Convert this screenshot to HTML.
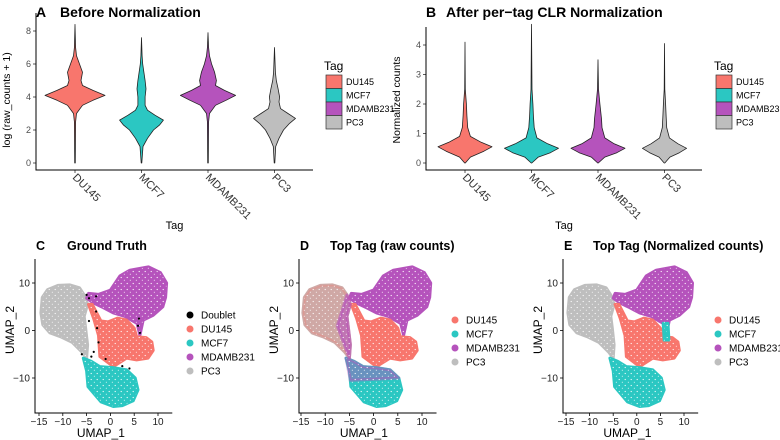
<!DOCTYPE html>
<html><head><meta charset="utf-8">
<style>
html,body{margin:0;padding:0;background:#fff;}
svg{display:block;font-family:"Liberation Sans",Arial,sans-serif;}
.tick{fill:#4d4d4d;}
.ttl{font-weight:bold;fill:#000;}
.ax{fill:#000;}
.lg{fill:#000;}
</style></head><body>
<svg id="fig" width="780" height="440" viewBox="0 0 780 440" xmlns="http://www.w3.org/2000/svg">
<defs>
<pattern id="speck" width="6" height="6" patternUnits="userSpaceOnUse">
<circle cx="1.2" cy="1.5" r="0.6" fill="#fff"/>
<circle cx="4.3" cy="4.2" r="0.5" fill="#fff"/>
</pattern>
</defs>
</svg>
<script>
const NS="http://www.w3.org/2000/svg";
const svg=document.getElementById('fig');
function mk(tag,attrs,parent,text){const e=document.createElementNS(NS,tag);for(const k in attrs)e.setAttribute(k,attrs[k]);if(text!==undefined)e.textContent=text;(parent||svg).appendChild(e);return e;}

/* ---------- data ---------- */
const tags=["DU145","MCF7","MDAMB231","PC3"];
const colors=["#F8766D","#2BC7C2","#B553BC","#BEBEBE"];
const vaY=[
 [0,2.5,3.0,3.5,3.8,4.1,4.4,4.7,5.0,5.5,6.0,6.5,7.0,8.4],
 [0,1.0,1.5,2.0,2.3,2.6,2.9,3.2,3.5,4.0,4.5,5.0,5.5,6.0,6.5,7.6],
 [0,2.5,3.0,3.5,3.8,4.1,4.4,4.7,5.0,5.5,6.0,6.5,7.0,7.9],
 [0,1.0,1.5,2.0,2.4,2.7,3.0,3.3,3.7,4.0,4.5,5.0,5.5,7.0]];
const vaW=[
 [0.01,0.02,0.05,0.25,0.6,1.0,0.6,0.25,0.2,0.25,0.15,0.05,0.02,0],
 [0.01,0.05,0.2,0.4,0.6,0.73,0.45,0.2,0.12,0.12,0.15,0.12,0.08,0.04,0.02,0],
 [0.01,0.02,0.05,0.25,0.6,0.92,0.55,0.25,0.28,0.22,0.12,0.05,0.02,0],
 [0.01,0.04,0.15,0.3,0.5,0.7,0.45,0.2,0.15,0.17,0.12,0.06,0.03,0]];
const vbY=[
 [0,0.2,0.4,0.55,0.7,0.9,1.2,1.6,2.0,2.5,4.1],
 [0,0.2,0.35,0.5,0.65,0.85,1.2,1.6,2.0,2.5,4.7],
 [0,0.2,0.35,0.5,0.65,0.85,1.2,1.5,2.0,2.5,3.5],
 [0,0.2,0.35,0.5,0.65,0.85,1.2,1.6,2.0,2.5,4.05]];
const vbW=[
 [0.01,0.2,0.7,1.0,0.6,0.2,0.1,0.07,0.05,0.01,0],
 [0.01,0.25,0.7,1.0,0.6,0.2,0.1,0.07,0.05,0.02,0],
 [0.01,0.25,0.7,1.0,0.6,0.25,0.15,0.13,0.07,0.02,0],
 [0.01,0.2,0.55,0.82,0.5,0.18,0.08,0.06,0.04,0.01,0]];
const aTicks=[0,2,4,6,8];
const bTicks=[0,1,2,3,4];
const umapXTicks=[-15,-10,-5,0,5,10];
const umapYTicks=[-10,0,10];
const pc3X=[-14.6,-14.3,-13.2,-11,-8.5,-6.5,-5.5,-4.8,-5.5,-5.2,-4.8,-5,-6,-8,-10.5,-12.7,-14.2];
const pc3Y=[3.7,7,8.6,9.5,9.6,9,7.5,5.5,3,0.5,-3,-5.8,-4.5,-2.5,-1.3,-0.5,1.2];
const mdX=[0,2,4.1,8,10.5,11.8,11.6,11,9,6.9,6.2,5.6,3,0.6,-1.5,-3.6,-5,-4.6,-2.5];
const mdY=[8.5,11.5,12.7,13.4,12.2,10,7,5,3.2,2.2,-1,1.5,3,3.7,4.8,5.8,6.8,7.8,7.6];
const duX=[-0.5,1.5,3.4,5,5.5,7.5,8.7,9,7.9,5.5,3.4,0.6,-2.2,-2.5,-3.5,-4.6,-3.8,-2];
const duY=[1.8,2.6,2.2,0.5,-1.3,-1.5,-2.4,-4.2,-5.8,-6.2,-5.8,-7.6,-5.5,-1,2.5,5.5,5.5,2];
const mcX=[-5.7,-4,-2.2,0.5,3.4,5.2,5.8,4.8,2.5,0.6,-2,-4.7,-5];
const mcY=[-5.8,-6.5,-7.6,-7.8,-8.3,-10,-12.5,-14.8,-15.8,-16,-15,-11.8,-8.5];
const doubX=[-5,-4.5,-3,-2.8,-2.5,-3.5,-4,5.8,6,6.2,-4.5,-3,2.5,4,-6,-1];
const doubY=[7.5,6.8,7.2,0.5,-2.5,-4.5,-5.5,1,2.5,-0.5,2,4,-7.5,-8,-5,-6];

function titleText(g,letter,name,lx,nx,y,size){
  const a=mk('text',{class:'ttl',x:lx,y:y,style:'font-size:'+size},g,letter);
  
  
  const b=mk('text',{class:'ttl',x:nx,y:y,style:'font-size:'+size},g,name);
  
  
}

function violinPanel(id,left,right,bottom,y0px,ppu,ticks,ys,ws,maxHW,letter,title,titleX,ytitle,ylabelX,legX,legTxtX){
  const g=mk('g',{},svg);
  
  
  const yS=v=>y0px-v*ppu;
  const xS=i=>left+39+i*66.5;
  for(let i=0;i<tags.length;i++){
    let d='';const yv=ys[i],wv=ws[i];
    for(let k=0;k<yv.length;k++){d+=(k?'L':'M')+(xS(i)+wv[k]*maxHW).toFixed(1)+','+yS(yv[k]).toFixed(1);}
    for(let k=yv.length-1;k>=0;k--){d+='L'+(xS(i)-wv[k]*maxHW).toFixed(1)+','+yS(yv[k]).toFixed(1);}
    const p=mk('path',{d:d+'Z',fill:colors[i],stroke:'#222','stroke-width':0.8,'stroke-linejoin':'round'},g);
    
    
    mk('line',{x1:xS(i),x2:xS(i),y1:bottom,y2:bottom+3,stroke:'#333','stroke-width':0.8},g);
    const t=mk('text',{class:'tick',x:0,y:0,transform:`translate(${xS(i)-3},${bottom+8}) rotate(45)`,style:'font-size:11px;fill:#333'},g,tags[i]);
    
    
  }
  ticks.forEach(v=>{
    mk('line',{x1:left-3,x2:left,y1:yS(v),y2:yS(v),stroke:'#333','stroke-width':0.8},g);
    const t=mk('text',{class:'tick',x:left-5,y:yS(v)+3,'text-anchor':'end',style:'font-size:9px'},g,v);
    
    
  });
  mk('path',{d:`M${left},${yS(ticks[ticks.length-1])-18}V${bottom}H${right}`,fill:'none',stroke:'#000','stroke-width':1},g);
  titleText(g,letter,title,left,titleX,17,'14px');
  const yt=mk('text',{class:'ax',transform:`translate(${ylabelX},${(bottom+30)/2}) rotate(-90)`,'text-anchor':'middle',style:'font-size:10.5px'},g,ytitle);
  
  
  const xt=mk('text',{class:'ax',x:(left+right)/2,y:229,'text-anchor':'middle',style:'font-size:11px'},g,'Tag');
  
  
  const lt=mk('text',{class:'ax',x:legX-2,y:70,style:'font-size:12px'},g,'Tag');
  
  
  tags.forEach((tg,i)=>{
    const r=mk('rect',{x:legX,y:75+i*13.5,width:16,height:13.5,fill:colors[i],stroke:'#333','stroke-width':0.7},g);
    
    
    const t=mk('text',{class:'lg',x:legTxtX,y:85+i*13.5,style:'font-size:9px'},g,tg);
    
    
  });
}
violinPanel('panel-a-violin',36,313,170,163,16.5,aTicks,vaY,vaW,30,'A','Before Normalization',60,'log (raw_counts + 1)',10,326,346);
violinPanel('panel-b-violin',426,702,170,163,29.5,bTicks,vbY,vbW,27,'B','After per\u2212tag CLR Normalization',446,'Normalized counts',400,716,736);

function umapPanel(id,axisX,x0,xppu,letter,title,titleX,legendTags,legendColors,legDotX,legY0,legStep,mode){
  const g=mk('g',{},svg);
  
  
  const y0=330.5,yppu=4.75;
  const X=v=>x0+v*xppu, Y=v=>y0-v*yppu;
  const poly=(xs,ys)=>xs.map((v,k)=>(k?'L':'M')+X(v).toFixed(1)+','+Y(ys[k]).toFixed(1)).join('')+'Z';
  function blob(xs,ys,fill,name,op){
    const p=mk('path',{d:poly(xs,ys),fill:fill,'fill-opacity':op||1,'stroke':fill,'stroke-width':3,'stroke-opacity':op||1,'stroke-linejoin':'round'},g);
    
    
  }
  blob(pc3X,pc3Y,colors[3],'cluster-pc3');
  blob(mdX,mdY,colors[2],'cluster-mdamb231');
  blob(duX,duY,colors[0],'cluster-du145');
  blob(mcX,mcY,colors[1],'cluster-mcf7');
  if(mode==='raw'){
    blob(pc3X,pc3Y,colors[0],'pc3-mixed-du145',0.3);
    blob(pc3X.slice(6,12).concat([-7.5]),pc3Y.slice(6,12).concat([1]),colors[2],'pc3-mixed-mdamb231',0.6);
    blob(mcX.slice(0,6).concat([-4.8]),mcY.slice(0,6).concat([-10.5]),colors[2],'mcf7-mixed-mdamb231',0.45);
  }
  if(mode==='norm'){
    blob([5.6,6.6,6.8,5.8],[1.5,1.5,-2,-2],colors[1],'mcf7-tail');
  }
  const sp=mk('path',{d:poly(pc3X,pc3Y)+poly(mdX,mdY)+poly(duX,duY)+poly(mcX,mcY),fill:'url(#speck)'},g);
  
  
  if(mode==='truth'){
    doubX.forEach((v,k)=>{
      const c=mk('circle',{cx:X(v),cy:Y(doubY[k]),r:1.1,fill:'#000'},g);
      
      
    });
  }
  mk('path',{d:`M${axisX},${259}V413H${X(13)}`,fill:'none',stroke:'#000','stroke-width':1},g);
  umapXTicks.forEach(v=>{
    mk('line',{x1:X(v),x2:X(v),y1:413,y2:416,stroke:'#000','stroke-width':0.8},g);
    const t=mk('text',{class:'tick',x:X(v),y:425,'text-anchor':'middle',style:'font-size:10px;fill:#222'},g,v<0?'\u2212'+(-v):v);
    
    
  });
  umapYTicks.forEach(v=>{
    mk('line',{x1:axisX-3,x2:axisX,y1:Y(v),y2:Y(v),stroke:'#000','stroke-width':0.8},g);
    const t=mk('text',{class:'tick',x:axisX-5,y:Y(v)+3.5,'text-anchor':'end',style:'font-size:10px;fill:#222'},g,v<0?'\u2212'+(-v):v);
    
    
  });
  const xt=mk('text',{class:'ax',x:X(-2),y:437,'text-anchor':'middle',style:'font-size:12px'},g,'UMAP_1');
  
  
  const yt=mk('text',{class:'ax',transform:`translate(${axisX-21},330) rotate(-90)`,'text-anchor':'middle',style:'font-size:12px'},g,'UMAP_2');
  
  
  titleText(g,letter,title,axisX+1,titleX,250,'12.5px');
  legendTags.forEach((tg,i)=>{
    const c=mk('circle',{cx:legDotX,cy:legY0+i*legStep,r:3.5,fill:legendColors[i]},g);
    
    
    const t=mk('text',{class:'lg',x:legDotX+11,y:legY0+i*legStep+3.5,style:'font-size:10px'},g,tg);
    
    
  });
}
umapPanel('panel-c-umap',35,110.4,4.76,'C','Ground Truth',67,['Doublet'].concat(tags),['#000'].concat(colors),190,315,14,'truth');
umapPanel('panel-d-umap',299,373.6,4.84,'D','Top Tag (raw counts)',330,tags,colors,455,320,14,'raw');
umapPanel('panel-e-umap',563,636.8,4.72,'E','Top Tag (Normalized counts)',593,tags,colors,718,320,14,'norm');
</script>
</body></html>
